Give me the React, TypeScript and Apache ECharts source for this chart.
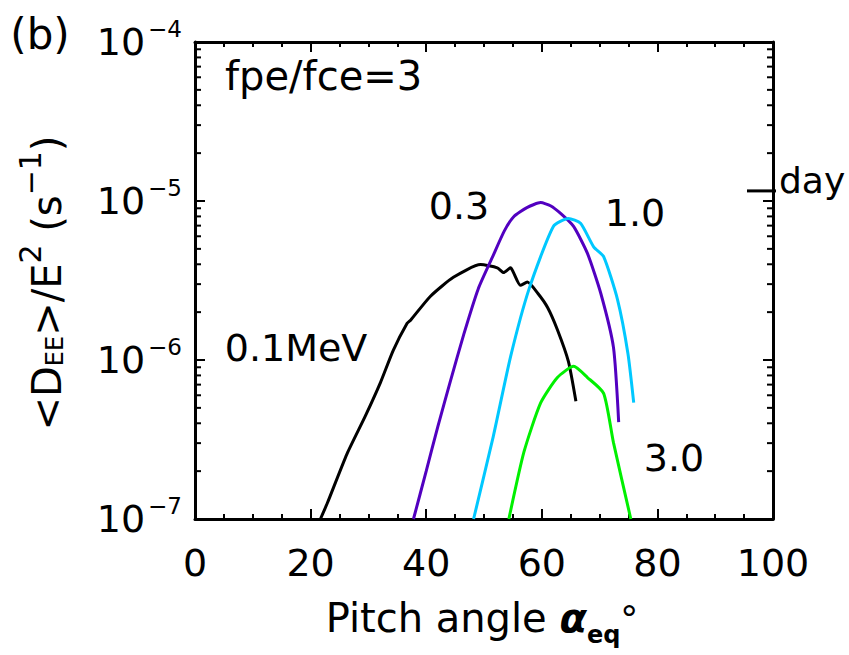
import React, { useEffect, useRef } from "react";
import * as echarts from "echarts";

const FONT = "DejaVu Sans";

// Pitch angle (deg) and <D_EE>/E^2 (s^-1) per energy
const x01 = [21.7, 22.9, 26.3, 29.5, 32.1, 34.3, 36.7, 37.3, 40.7, 44.7, 49.4, 52.3, 53.4, 54.6, 55.1, 56.3, 57.5, 59.3, 61.0, 62.7, 64.6, 65.9];
const y01 = [1.0e-7, 1.26e-7, 2.57e-7, 4.47e-7, 7.24e-7, 1.15e-6, 1.70e-6, 1.78e-6, 2.51e-6, 3.31e-6, 3.98e-6, 3.80e-6, 3.55e-6, 3.80e-6, 3.55e-6, 2.95e-6, 3.09e-6, 2.63e-6, 2.14e-6, 1.55e-6, 9.8e-7, 5.5e-7];

const x03 = [37.8, 40.0, 42.0, 44.2, 46.5, 49.0, 51.5, 53.5, 55.1, 57.5, 59.8, 61.5, 63.3, 65.5, 67.9, 70.2, 72.4, 73.3];
const y03 = [1.0e-7, 2.0e-7, 3.8e-7, 7.4e-7, 1.45e-6, 2.8e-6, 4.47e-6, 6.46e-6, 7.94e-6, 9.12e-6, 9.77e-6, 9.33e-6, 8.32e-6, 6.92e-6, 4.68e-6, 2.63e-6, 1.2e-6, 4.07e-7];

const x10 = [48.2, 51.6, 54.6, 57.8, 62.0, 64.6, 66.7, 69.0, 70.7, 73.1, 74.9, 75.9];
const y10 = [1.0e-7, 3.3e-7, 1.05e-6, 2.8e-6, 6.92e-6, 7.76e-6, 7.24e-6, 5.13e-6, 4.47e-6, 2.4e-6, 1.1e-6, 5.4e-7];

const x30 = [54.3, 56.9, 59.8, 62.7, 65.5, 67.9, 70.7, 72.4, 75.4];
const y30 = [1.0e-7, 2.63e-7, 5.37e-7, 7.76e-7, 9.12e-7, 7.76e-7, 6.17e-7, 3.02e-7, 1.0e-7];

const energyLabels = ["0.1MeV", "0.3", "1.0", "3.0"];
const colors = ["#000000", "#5200C0", "#00C8FF", "#00F000"];

const xMin = 0, xMax = 100, xInterval = 20;
const yMin = 1e-7, yMax = 1e-4;
const yMinorTicks = [
  2e-7, 3e-7, 4e-7, 5e-7, 6e-7, 7e-7, 8e-7, 9e-7,
  2e-6, 3e-6, 4e-6, 5e-6, 6e-6, 7e-6, 8e-6, 9e-6,
  2e-5, 3e-5, 4e-5, 5e-5, 6e-5, 7e-5, 8e-5, 9e-5,
];
const oneDay = 1 / 86400;

const pairs = (xs: number[], ys: number[]) => xs.map((x, i) => [x, ys[i]]);

export default function App() {
  const ref = useRef<HTMLDivElement>(null);
  useEffect(() => {
    if (!ref.current) return;
    const chart = echarts.init(ref.current, null, { renderer: "svg" });
    const axisLineStyle = { color: "#000", width: 3 };
    const xAxisBase: any = {
      type: "value",
      min: xMin,
      max: xMax,
      interval: xInterval,
      axisLine: { show: true, onZero: false, lineStyle: axisLineStyle },
      axisTick: { show: true, inside: true, length: 10, lineStyle: { color: "#000", width: 2 } },
      minorTick: { show: true, splitNumber: 4, length: 5, lineStyle: { color: "#000", width: 2 } },
      splitLine: { show: false },
      minorSplitLine: { show: false },
    };
    const yAxisBase: any = {
      type: "log",
      logBase: 10,
      min: yMin,
      max: yMax,
      axisLine: { show: true, onZero: false, lineStyle: axisLineStyle },
      axisTick: { show: true, inside: true, length: 10, lineStyle: { color: "#000", width: 2 } },
      minorTick: { show: false },
      splitLine: { show: false },
      minorSplitLine: { show: false },
    };
    const seriesData = [pairs(x01, y01), pairs(x03, y03), pairs(x10, y10), pairs(x30, y30)];
    const option: any = {
      animation: false,
      backgroundColor: "#fff",
      grid: { left: 195, right: 76, top: 42, bottom: 136, containLabel: false, outerBoundsMode: "none" },
      xAxis: [
        {
          ...xAxisBase,
          position: "bottom",
          axisLabel: { show: true, fontSize: 38, color: "#000", fontFamily: FONT, margin: 25 },
        },
        { ...xAxisBase, position: "top", axisLabel: { show: false } },
      ],
      yAxis: [
        {
          ...yAxisBase,
          position: "left",
          axisLabel: {
            show: true,
            margin: 13,
            formatter: (v: number) => {
              const e = Math.round(Math.log10(v));
              return `{b|10}{s|\u2212${-e}}`;
            },
            rich: {
              b: { fontSize: 38, lineHeight: 38, fontFamily: FONT, color: "#000", verticalAlign: "middle" },
              s: { fontSize: 23, lineHeight: 4, fontFamily: FONT, color: "#000", verticalAlign: "bottom", padding: [0, 0, 21, 3] },
            },
          },
        },
        { ...yAxisBase, position: "right", axisLabel: { show: false } },
      ],
      series: [
        ...seriesData.map((d, i) => ({
          type: "line",
          name: energyLabels[i],
          data: d,
          xAxisIndex: 0,
          yAxisIndex: 0,
          showSymbol: false,
          symbol: "none",
          smooth: 0.2,
          lineStyle: { color: colors[i], width: 3 },
          itemStyle: { color: colors[i] },
          clip: true,
          z: 3,
        })),
        {
          type: "custom",
          xAxisIndex: 0,
          yAxisIndex: 0,
          clip: false,
          silent: true,
          data: yMinorTicks.map((v) => [xMin, v]),
          renderItem: (params: any, api: any) => {
            const v = api.value(1);
            const pl = api.coord([xMin, v]);
            const pr = api.coord([xMax, v]);
            return {
              type: "group",
              children: [
                { type: "line", shape: { x1: pl[0], y1: pl[1], x2: pl[0] + 6, y2: pl[1] }, style: { stroke: "#000", lineWidth: 2 } },
                { type: "line", shape: { x1: pr[0] - 6, y1: pr[1], x2: pr[0], y2: pr[1] }, style: { stroke: "#000", lineWidth: 2 } },
              ],
            };
          },
          z: 4,
        },
        {
          type: "custom",
          xAxisIndex: 0,
          yAxisIndex: 0,
          clip: false,
          silent: true,
          data: [[xMax, oneDay]],
          renderItem: (params: any, api: any) => {
            const p = api.coord([api.value(0), api.value(1)]);
            return {
              type: "group",
              children: [
                {
                  type: "line",
                  shape: { x1: p[0] - 26, y1: p[1], x2: p[0] + 3, y2: p[1] },
                  style: { stroke: "#000", lineWidth: 3 },
                },
                {
                  type: "text",
                  x: p[0] + 6,
                  y: p[1] - 10,
                  style: { text: "day", fontSize: 36, fontFamily: FONT, fill: "#000", align: "left", verticalAlign: "middle" },
                },
              ],
            };
          },
          z: 4,
        },
      ],
      graphic: [
        { type: "text", x: 40, y: 34, style: { text: "(b)", fontSize: 42, fontFamily: FONT, fill: "#000", align: "center", verticalAlign: "middle" } },
        { type: "text", x: 225, y: 76, style: { text: "fpe/fce=3", fontSize: 40, fontFamily: FONT, fill: "#000", align: "left", verticalAlign: "middle" } },
        { type: "text", x: 459, y: 206, style: { text: energyLabels[1], fontSize: 38, fontFamily: FONT, fill: "#000", align: "center", verticalAlign: "middle" } },
        { type: "text", x: 635, y: 213, style: { text: energyLabels[2], fontSize: 38, fontFamily: FONT, fill: "#000", align: "center", verticalAlign: "middle" } },
        { type: "text", x: 674, y: 458, style: { text: energyLabels[3], fontSize: 38, fontFamily: FONT, fill: "#000", align: "center", verticalAlign: "middle" } },
        { type: "text", x: 296, y: 348, style: { text: energyLabels[0], fontSize: 38, fontFamily: FONT, fill: "#000", align: "center", verticalAlign: "middle" } },
        {
          type: "text",
          x: 482,
          y: 618,
          style: {
            text: "Pitch angle {a|\u03b1}{sub|eq}{deg|\u00b0}",
            fontSize: 40,
            lineHeight: 40,
            fontFamily: FONT,
            fill: "#000",
            align: "center",
            verticalAlign: "middle",
            rich: {
              a: { fontSize: 40, lineHeight: 40, fontStyle: "italic", fontWeight: "bold", fontFamily: FONT, fill: "#000" },
              sub: { fontSize: 24, lineHeight: 4, verticalAlign: "top", padding: [25, 0, 0, 0], fontFamily: FONT, fill: "#000", fontWeight: "bold" },
              deg: { fontSize: 36, lineHeight: 40, fontFamily: FONT, fill: "#000" },
            },
          },
        },
        {
          type: "text",
          x: 47,
          y: 283,
          rotation: Math.PI / 2,
          style: {
            text: "<D{sub|EE}>/E{sup|2} (s{sup|\u22121})",
            fontSize: 40,
            lineHeight: 40,
            fontFamily: FONT,
            fill: "#000",
            align: "center",
            verticalAlign: "middle",
            rich: {
              sub: { fontSize: 24, lineHeight: 4, verticalAlign: "top", padding: [16, 0, 0, 0], fontFamily: FONT, fill: "#000" },
              sup: { fontSize: 30, lineHeight: 4, verticalAlign: "bottom", padding: [0, 0, 22, 0], fontFamily: FONT, fill: "#000" },
            },
          },
        },
      ],
    };
    chart.setOption(option);
    return () => chart.dispose();
  }, []);
  return (
    <div
      ref={ref}
      style={{ position: "fixed", left: 0, top: 0, width: 849, height: 655, background: "#fff" }}
    />
  );
}
